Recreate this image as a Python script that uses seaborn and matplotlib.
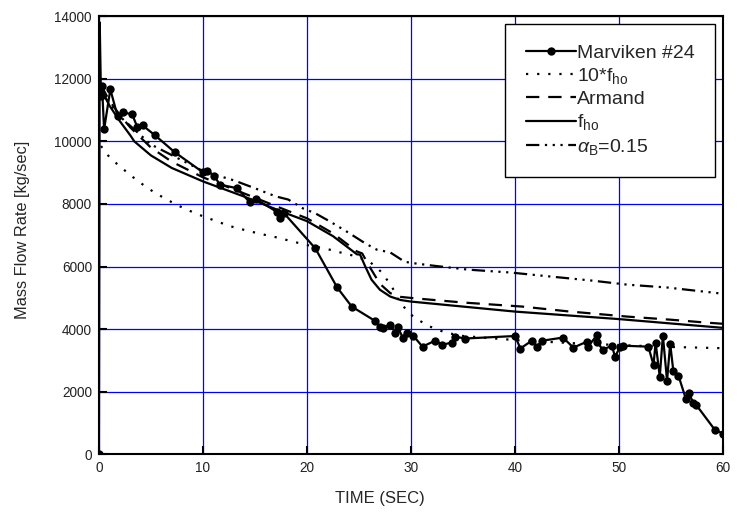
# marviken_mass_flow.py
import numpy as np
import pandas as pd
import matplotlib
matplotlib.use("Agg")
import matplotlib.pyplot as plt
import seaborn as sns

# ======== DATA =========
# Marviken test #24 measured points (time [s], mass flow [kg/s])
marv_t = [0.0, 0.08, 0.2, 0.3, 0.5, 1.1, 1.8, 2.3, 3.2, 3.7, 4.2, 5.4, 7.3, 10.0, 10.4,
          11.1, 11.6, 13.3, 14.5, 15.1, 17.1, 17.4, 17.8, 20.8, 22.9, 24.3, 26.5, 27.0,
          27.3, 28.0, 28.5, 28.7, 29.2, 29.6, 30.2, 31.1, 32.3, 33.0, 33.9, 34.2, 35.2,
          40.0, 40.5, 41.6, 42.1, 42.6, 44.6, 45.6, 46.9, 47.0, 47.9, 47.9, 48.4, 49.3,
          49.6, 50.1, 50.4, 52.8, 53.3, 53.5, 53.9, 54.2, 54.6, 54.9, 55.2, 55.7, 56.4,
          56.7, 57.1, 57.4, 59.2, 60.0]
marv_w = [0, 13800, 11440, 11760, 10380, 11660, 10800, 10930, 10860, 10450, 10510, 10190,
          9650, 9010, 9060, 8900, 8620, 8500, 8050, 8150, 7750, 7540, 7700, 6580, 5330,
          4720, 4270, 4080, 4050, 4140, 3890, 4080, 3730, 3890, 3790, 3440, 3630, 3500,
          3570, 3760, 3700, 3780, 3380, 3630, 3440, 3630, 3730, 3410, 3600, 3440, 3820,
          3600, 3340, 3470, 3120, 3440, 3470, 3440, 2860, 3570, 2480, 3790, 2350, 3540,
          2670, 2510, 1780, 1970, 1650, 1580, 780, 660]

# 10*f_ho model
f10_t = [0.2, 1, 2, 3.3, 4.7, 6.2, 7.6, 9.4, 11.2, 12.6, 14.2, 15.7, 17.1, 18.6, 20.1,
         21.7, 23.2, 24.8, 26.1, 27.2, 28.2, 28.9, 30.2, 31.6, 33.3, 35, 40, 45, 50, 55, 60]
f10_w = [9850, 9500, 9200, 8850, 8500, 8200, 7950, 7680, 7460, 7290, 7150, 7030, 6930,
         6800, 6680, 6580, 6450, 6320, 6130, 5810, 5330, 4850, 4400, 4110, 3890, 3780,
         3650, 3560, 3490, 3430, 3390]

# Armand model
arm_t = [0.2, 1, 2, 3, 5, 7, 10, 14, 18, 20, 22.5, 24.8, 25.3, 26.0, 27.0, 28.0, 29.0,
         30.5, 35, 40.7, 45, 50.8, 55, 58.3, 60]
arm_w = [11800, 11300, 10850, 10450, 9800, 9350, 8850, 8330, 7800, 7540, 7060, 6480,
         6420, 6000, 5450, 5150, 5030, 4980, 4850, 4720, 4570, 4400, 4300, 4210, 4170]

# f_ho model
fho_t = [0.2, 1, 2, 3, 3.4, 5, 7, 10, 14, 18, 20, 22.5, 24.8, 25.1, 25.6, 26.2, 27.0,
         28.0, 29.0, 30.0, 35, 40, 45, 50, 55, 60]
fho_w = [11700, 11150, 10650, 10200, 10000, 9550, 9150, 8720, 8230, 7700, 7450, 6970,
         6390, 6380, 6000, 5580, 5260, 5040, 4930, 4880, 4720, 4560, 4440, 4320, 4180, 4040]

# alpha_B = 0.15 model
alp_t = [0.2, 1, 2, 5, 10, 13, 15, 17, 18.2, 19.6, 20.8, 22.2, 23.8, 25.6, 26.7, 28.0,
         29.4, 30.4, 31.8, 35.5, 39.5, 43.4, 47.4, 50.8, 54.6, 60]
alp_w = [11600, 11200, 10800, 9900, 9050, 8750, 8500, 8240, 8140, 7860, 7700, 7440, 7120,
         6740, 6540, 6450, 6150, 6100, 6040, 5900, 5810, 5680, 5550, 5420, 5330, 5130]

labels = ["Marviken #24", r"10*f$_{\mathrm{ho}}$", "Armand", r"f$_{\mathrm{ho}}$",
          r"$\alpha_{\mathrm{B}}$=0.15"]

# ======== STYLE =========
sns.set_style("white")
plt.rcParams['font.family'] = ['Liberation Sans', 'DejaVu Sans']
plt.rcParams['mathtext.fontset'] = 'custom'
plt.rcParams['mathtext.rm'] = 'Liberation Sans'
plt.rcParams['mathtext.it'] = 'Liberation Sans:italic'

fig = plt.figure(figsize=(7.38, 5.21), dpi=100)
ax = fig.add_axes([0.134, 0.128, 0.846, 0.841])

lw = 1.6
marv = pd.DataFrame({"t": marv_t, "w": marv_w})
# no dot on the initial spike
marks = [i for i in range(len(marv_t)) if i != 1]
sns.lineplot(data=marv, x="t", y="w", sort=False, estimator=None, ax=ax, color="black",
             lw=lw, marker="o", markersize=6, markeredgewidth=0, markevery=marks,
             label=labels[0])

models = [(f10_t, f10_w, (1, 4)), (arm_t, arm_w, (6, 4)), (fho_t, fho_w, None),
          (alp_t, alp_w, (6, 2.5, 1, 2.5, 1, 2.5, 1, 2.5))]
for (tt, ww, dash), lab in zip(models, labels[1:]):
    df = pd.DataFrame({"t": tt, "w": ww})
    line = sns.lineplot(data=df, x="t", y="w", sort=False, estimator=None, ax=ax,
                        color="black", lw=lw, label=lab)
    if dash is not None:
        line.lines[-1].set_dashes(dash)

ax.set_xlim(0, 60)
ax.set_ylim(0, 14000)
ax.set_xticks(np.arange(0, 61, 10))
ax.set_yticks(np.arange(0, 14001, 2000))
ax.grid(True, color="blue", lw=0.9)
ax.set_axisbelow(True)
for s in ax.spines.values():
    s.set_color("black")
    s.set_linewidth(1.5)
ax.tick_params(direction="in", length=6, width=1.5, labelsize=9.8, pad=5,
               bottom=True, left=True, colors="black", labelcolor="#222222")
ax.set_xlabel("TIME (SEC)", fontsize=12)
ax.set_ylabel("Mass Flow Rate [kg/sec]", fontsize=11.8)
ax.xaxis.set_label_coords(0.45, -0.083)
ax.yaxis.set_label_coords(-0.111, 0.512)

leg = ax.legend(loc="upper right", fontsize=14, frameon=True, fancybox=False,
                edgecolor="black", framealpha=1, handlelength=2.6, labelspacing=0.22,
                borderpad=1.05, borderaxespad=0.4, handletextpad=0.05)
leg.get_frame().set_linewidth(1.0)

fig.savefig("out.png", dpi=100)
